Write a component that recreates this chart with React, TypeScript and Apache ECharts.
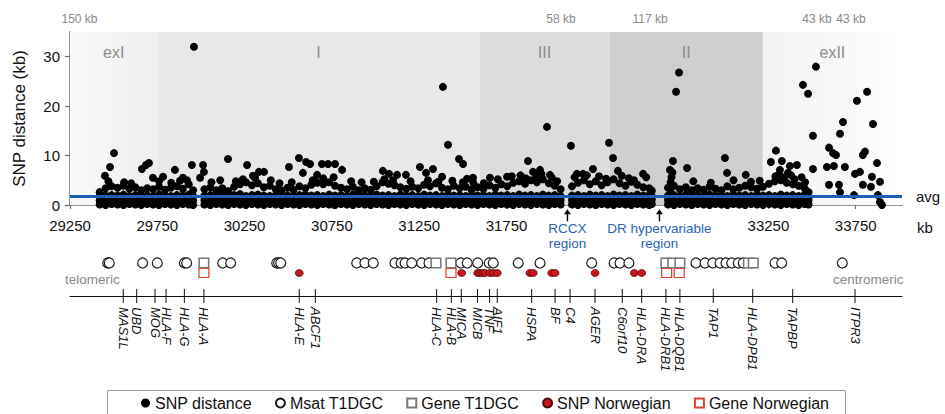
import React, { useEffect, useRef } from 'react';
import * as echarts from 'echarts';

// ---------- axis / tick data ----------
const X_MIN = 29250;
const X_MAX = 34015;
const Y_MAX = 35;
const xTickValues = [29250, 29750, 30250, 30750, 31250, 31750, 33250, 33750];
const yTickValues = [0, 10, 20, 30];
const avgDistance = 1.8;

// ---------- MHC regions ----------
const regionNames = ['exI', 'I', 'III', 'II', 'exII'];
const regionStarts = [29250, 29750, 31595, 32340, 33218];
const regionEnds = [29750, 31595, 32340, 33218, 34015];

// gap annotations above the plot
const gapLabels = ['150 kb', '58 kb', '117 kb', '43 kb', '43 kb'];

// region annotations below the axis
const annotNames = ['RCCX\nregion', 'DR hypervariable\nregion'];
const annotKb = [32099, 32626];

// ---------- SNP distance (kb) : dense band, columns [kb, values...] ----------
const bandSegmentA = [
  [29420, 0.1, 0.9, 1.8, 2.6], [29454, 0.0, 1.0, 1.9, 3.4], [29488, 0.2, 0.8, 2.0, 3.8],
  [29522, 0.1, 1.1, 1.9, 3.5], [29556, 0.0, 0.9, 2.1, 3.9], [29590, 0.2, 1.0, 1.8, 3.3],
  [29624, 0.1, 0.8, 2.0, 3.6], [29658, 0.0, 1.1, 1.9, 3.0], [29692, 0.2, 0.9, 2.0, 3.4],
  [29726, 0.1, 1.0, 1.8, 3.2], [29760, 0.0, 0.8, 2.1, 3.7], [29794, 0.2, 1.1, 1.9, 3.1],
  [29828, 0.1, 0.9, 1.8, 3.5], [29862, 0.0, 1.0, 2.0, 3.8], [29896, 0.2, 0.8, 1.9, 3.3],
  [29930, 0.1, 1.1, 2.1, 4.2], [29955, 0.0, 0.9, 1.8, 3.0],
];
const bandSegmentB = [
  [30020, 0.1, 1.0, 1.9, 3.2], [30054, 0.0, 0.8, 2.0, 3.6], [30088, 0.2, 1.1, 1.8, 3.0],
  [30122, 0.1, 0.9, 2.1, 3.4], [30156, 0.0, 1.0, 1.9, 2.8], [30190, 0.2, 0.8, 2.0, 3.7],
  [30224, 0.1, 1.1, 2.2, 4.2], [30258, 0.0, 0.9, 1.8, 4.6], [30292, 0.2, 1.0, 2.0, 4.0],
  [30326, 0.1, 0.8, 2.1, 4.4], [30360, 0.0, 1.1, 1.9, 3.6], [30394, 0.2, 0.9, 1.8, 3.9],
  [30428, 0.1, 1.0, 2.0, 3.2], [30462, 0.0, 0.8, 2.1, 3.0], [30496, 0.2, 1.1, 1.9, 3.5],
  [30530, 0.1, 0.9, 1.8, 3.1], [30564, 0.0, 1.0, 2.0, 3.8], [30598, 0.2, 0.8, 2.1, 3.4],
  [30632, 0.1, 1.1, 1.9, 4.1], [30666, 0.0, 0.9, 2.0, 4.5], [30700, 0.2, 1.0, 1.8, 4.2],
  [30734, 0.1, 0.8, 2.1, 4.6], [30768, 0.0, 1.1, 1.9, 3.9], [30802, 0.2, 0.9, 2.0, 3.5],
  [30836, 0.1, 1.0, 1.8, 3.2], [30870, 0.0, 0.8, 2.1, 3.7], [30904, 0.2, 1.1, 1.9, 3.0],
  [30938, 0.1, 0.9, 2.0, 3.4], [30972, 0.0, 1.0, 1.8, 3.1], [31006, 0.2, 0.8, 2.1, 3.8],
  [31040, 0.1, 1.1, 1.9, 4.6], [31074, 0.0, 0.9, 2.0, 4.3], [31108, 0.2, 1.0, 1.8, 4.0],
  [31142, 0.1, 0.8, 2.1, 3.6], [31176, 0.0, 1.1, 1.9, 3.3], [31210, 0.2, 0.9, 2.0, 3.7],
  [31244, 0.1, 1.0, 1.8, 3.4], [31278, 0.0, 0.8, 2.1, 4.1], [31312, 0.2, 1.1, 1.9, 3.8],
  [31346, 0.1, 0.9, 2.0, 4.4], [31380, 0.0, 1.0, 1.8, 3.5], [31414, 0.2, 0.8, 2.1, 3.2],
  [31448, 0.1, 1.1, 1.9, 3.9], [31482, 0.0, 0.9, 2.0, 3.4], [31516, 0.2, 1.0, 1.8, 3.7],
  [31550, 0.1, 0.8, 2.1, 3.1], [31584, 0.0, 1.1, 1.9, 3.6], [31618, 0.2, 0.9, 2.0, 3.3],
  [31652, 0.1, 1.0, 1.8, 4.0], [31686, 0.0, 0.8, 2.1, 3.5], [31720, 0.2, 1.1, 1.9, 4.2],
  [31754, 0.1, 0.9, 2.0, 3.8], [31788, 0.0, 1.0, 1.8, 4.5], [31822, 0.2, 0.8, 2.1, 4.8],
  [31856, 0.1, 1.1, 1.9, 4.3], [31890, 0.0, 0.9, 2.0, 5.0], [31924, 0.2, 1.0, 1.8, 4.6],
  [31958, 0.1, 0.8, 2.1, 5.2], [31992, 0.0, 1.1, 1.9, 4.4], [32026, 0.2, 0.9, 2.0, 3.9],
  [32060, 0.1, 1.0, 1.8, 3.2],
];
const bandSegmentC = [
  [32125, 0.1, 1.0, 1.9, 3.8], [32159, 0.0, 0.8, 2.0, 4.5], [32193, 0.2, 1.1, 1.8, 5.0],
  [32227, 0.1, 0.9, 2.1, 4.2], [32261, 0.0, 1.0, 1.9, 4.8], [32295, 0.2, 0.8, 2.0, 4.0],
  [32329, 0.1, 1.1, 1.8, 4.6], [32363, 0.0, 0.9, 2.1, 5.2], [32397, 0.2, 1.0, 1.9, 4.4],
  [32431, 0.1, 0.8, 2.0, 3.9], [32465, 0.0, 1.1, 1.8, 4.7], [32499, 0.2, 0.9, 2.1, 4.1],
  [32533, 0.1, 1.0, 1.9, 3.6], [32567, 0.0, 0.8, 2.0, 3.4], [32582, 0.2, 1.1, 1.8, 2.9],
];
const bandSegmentD = [
  [32675, 0.1, 1.0, 1.9, 3.5], [32709, 0.0, 0.8, 2.0, 3.9], [32743, 0.2, 1.1, 1.8, 3.2],
  [32777, 0.1, 0.9, 2.1, 3.6], [32811, 0.0, 1.0, 1.9, 3.0], [32845, 0.2, 0.8, 2.0, 3.4],
  [32879, 0.1, 1.1, 1.8, 3.1], [32913, 0.0, 0.9, 2.1, 3.7], [32947, 0.2, 1.0, 1.9, 3.3],
  [32981, 0.1, 0.8, 2.0, 3.0], [33015, 0.0, 1.1, 1.8, 3.8], [33049, 0.2, 0.9, 2.1, 3.2],
  [33083, 0.1, 1.0, 1.9, 3.5], [33117, 0.0, 0.8, 2.0, 3.9], [33151, 0.2, 1.1, 1.8, 3.6],
  [33185, 0.1, 0.9, 2.1, 3.3], [33219, 0.0, 1.0, 1.9, 3.7], [33253, 0.2, 0.8, 2.0, 4.3],
  [33287, 0.1, 1.1, 1.8, 4.8], [33321, 0.0, 0.9, 2.1, 5.0], [33355, 0.2, 1.0, 1.9, 4.5],
  [33389, 0.1, 0.8, 2.0, 4.2], [33423, 0.0, 1.1, 1.8, 3.9], [33457, 0.2, 0.9, 2.1, 3.4],
  [33480, 0.1, 1.0, 1.6, 2.6],
];

// moderate SNP distances just above the dense band
const snpModerate = [
  [29470, 4.8], [29560, 4.6], [29600, 4.4], [29760, 4.8], [29830, 4.5], [29880, 4.9], [29920, 5.0],
  [30060, 4.6], [30110, 5.0], [30200, 4.8], [30240, 5.2], [30310, 5.5], [30400, 5.0], [30450, 4.4],
  [30520, 4.6], [30640, 5.0], [30700, 5.4], [30760, 5.6], [30860, 4.8], [30920, 4.6], [30990, 4.7],
  [31050, 5.2], [31100, 5.0], [31200, 4.8], [31300, 5.0], [31360, 4.7], [31440, 4.9], [31500, 4.6],
  [31560, 4.5], [31620, 4.4], [31700, 5.2], [31780, 5.8], [31830, 6.0], [31860, 5.4], [31920, 5.9],
  [31950, 6.3], [32010, 5.5], [32040, 4.8], [32140, 5.6], [32210, 6.0], [32280, 5.8], [32320, 5.3],
  [32410, 5.9], [32450, 5.4], [32480, 5.0], [32550, 5.6], [32690, 4.6], [32695, 5.6], [32700, 6.6],
  [32688, 3.2], [32820, 4.8], [32920, 4.5], [33050, 5.0], [33150, 4.7], [33200, 4.9], [33290, 5.8],
  [33310, 6.2], [33340, 5.6], [33380, 6.0], [33400, 5.2], [33440, 5.6], [33460, 4.6],
];

// isolated large SNP distances
const snpOutliers = [
  [29960, 32.0], [29502, 10.5], [29479, 7.7], [29450, 5.9], [29702, 8.5], [29685, 8.1], [29662, 7.3],
  [29725, 5.5], [29783, 5.7], [29851, 7.1], [29948, 8.1], [30012, 8.1], [30017, 6.7], [29995, 5.5],
  [30155, 9.3], [30264, 8.1], [30298, 5.9], [30332, 6.7], [30361, 6.7], [29897, 5.5],
  [31386, 23.9], [31415, 12.2], [30561, 9.5], [30504, 7.7], [30602, 8.7], [30625, 8.3], [30584, 6.5],
  [30665, 6.1], [30693, 8.3], [30728, 8.3], [30768, 8.3], [30808, 7.1], [31042, 6.9], [31077, 6.3],
  [31123, 6.1], [31174, 6.1], [31254, 7.7], [31289, 6.5], [31329, 7.3], [31381, 5.7], [31478, 9.3],
  [31501, 8.3], [31558, 5.5], [31524, 5.3],
  [32738, 26.8], [32721, 22.9], [31982, 15.8], [32119, 12.0], [32337, 12.6], [32360, 9.5], [31873, 8.9],
  [32703, 8.9], [31942, 7.1], [31902, 6.7], [31999, 6.1], [32686, 7.1], [32784, 7.5], [32532, 6.3],
  [32388, 6.9], [32245, 7.3], [32153, 6.3], [32188, 6.3], [31655, 5.5], [31753, 5.7],
  [33522, 28.0], [33448, 24.3], [33477, 22.5], [33815, 22.9], [33757, 21.1], [33677, 16.8], [33849, 16.4],
  [33660, 14.4], [33505, 14.0], [33597, 11.6], [33620, 10.5], [33637, 10.1], [33803, 10.8], [33791, 10.1],
  [33293, 11.0], [33264, 8.7], [33327, 8.9], [33001, 9.5], [33013, 6.5], [33316, 7.1], [33373, 7.9],
  [33413, 8.1], [33505, 7.3], [33585, 7.7], [33625, 7.9], [33688, 7.7], [33872, 8.5], [33746, 6.3],
  [33774, 6.7], [33843, 5.7], [33889, 4.7], [33597, 4.1], [33654, 4.1], [33791, 4.1], [33837, 3.7],
  [33740, 2.0], [33877, 2.0], [33889, 0.6], [33900, 0.0], [33660, 2.6], [33120, 6.1], [33362, 6.5],
];

// ---------- gene map ----------
const geneNames = ['MAS1L', 'UBD', 'MOG', 'HLA-F', 'HLA-G', 'HLA-A', 'HLA-E', 'ABCF1', 'HLA-C', 'HLA-B',
  'MICA', 'MICB', 'TNF', 'AIF1', 'HSPA', 'BF', 'C4', 'AGER', 'C6orf10', 'HLA-DRA', 'HLA-DRB1',
  'HLA-DQB1', 'TAP1', 'HLA-DPB1', 'TAPBP', 'ITPR3'];
const genePositions = [29555, 29632, 29737, 29800, 29905, 30017, 30563, 30655, 31350, 31434,
  31491, 31584, 31653, 31697, 31894, 32028, 32114, 32257, 32413, 32524, 32663,
  32743, 32934, 33160, 33389, 33746];

const msatT1DGC = [29466, 29475, 29666, 29750, 29905, 29918, 30125, 30170, 30434, 30445, 30457,
  30892, 30939, 30987, 31111, 31146, 31169, 31207, 31264, 31306, 31488, 31525, 31585, 31651, 31674,
  31817, 31942, 32238, 32366, 32400, 32451, 32835, 32887, 32931, 32973, 33007, 33040, 33077, 33106,
  33288, 33326, 33673];
const geneT1DGC = [30017, 31346, 31432, 32663, 32702, 32743, 33135, 33163];
const snpNorwegian = [30563, 31493, 31585, 31598, 31614, 31627, 31655, 31674, 31697, 31884, 31903,
  32009, 32028, 32257, 32482, 32524];
const geneNorwegian = [30017, 31432, 32667, 32739];

const legendNames = ['SNP distance', 'Msat T1DGC', 'Gene T1DGC', 'SNP Norwegian', 'Gene Norwegian'];

const FONT = '"Liberation Sans", Arial, Helvetica, sans-serif';

export default function App() {
  const ref = useRef<HTMLDivElement>(null);

  useEffect(() => {
    if (!ref.current) return;
    const chart = echarts.init(ref.current, undefined, { renderer: 'svg' });

    const bandPoints = [...bandSegmentA, ...bandSegmentB, ...bandSegmentC, ...bandSegmentD]
      .flatMap((row) => row.slice(1).map((v) => [row[0], v]));
    const snpData = [...bandPoints, ...snpModerate, ...snpOutliers];

    const regionFills: any[] = [
      new echarts.graphic.LinearGradient(0, 0, 1, 0, [
        { offset: 0, color: '#f8f9fa' }, { offset: 1, color: '#eceeef' }]),
      '#e8e8e8',
      '#dcdddd',
      '#cfcfcf',
      new echarts.graphic.LinearGradient(0, 0, 1, 0, [
        { offset: 0, color: '#f1f3f4' }, { offset: 0.75, color: '#f9fafa' }, { offset: 1, color: '#ffffff' }]),
    ];

    const axisGrey = '#6e6e6e';
    const ROW_MSAT = 13;
    const ROW_NOR = 23;
    const GENE_LINE = 46;
    const txt = (align: string) => ({ textAlign: align, textVerticalAlign: 'middle', align, verticalAlign: 'middle' });

    const option: any = {
      animation: false,
      textStyle: { fontFamily: FONT },
      grid: [
        { left: 70, top: 32, width: 832, height: 173, outerBoundsMode: 'none' },
        { left: 70, top: 250, width: 832, height: GENE_LINE, outerBoundsMode: 'none' },
      ],
      xAxis: [
        {
          type: 'value', gridIndex: 0, min: X_MIN, max: X_MAX,
          axisLine: { show: true, onZero: false, lineStyle: { color: axisGrey, width: 1.5 } },
          axisTick: { show: true, customValues: xTickValues, length: 4, lineStyle: { color: axisGrey, width: 1.2 } },
          axisLabel: { customValues: xTickValues, formatter: (v: number) => String(v), fontSize: 15, color: '#111', margin: 13, fontFamily: FONT },
          splitLine: { show: false },
        },
        {
          type: 'value', gridIndex: 1, min: X_MIN, max: X_MAX,
          axisLine: { show: true, onZero: false, lineStyle: { color: '#111', width: 1 } },
          axisTick: { show: false }, axisLabel: { show: false }, splitLine: { show: false },
        },
      ],
      yAxis: [
        {
          type: 'value', gridIndex: 0, min: 0, max: Y_MAX,
          name: 'SNP distance (kb)', nameLocation: 'middle', nameGap: 42,
          nameTextStyle: { fontSize: 17, color: '#111', fontFamily: FONT },
          axisLine: { show: true, lineStyle: { color: axisGrey, width: 1.5 } },
          axisTick: { show: true, customValues: yTickValues, length: 5, lineStyle: { color: axisGrey, width: 1.2 } },
          axisLabel: { customValues: yTickValues, formatter: (v: number) => String(v), fontSize: 15, color: '#111', margin: 10, fontFamily: FONT },
          splitLine: { show: false },
        },
        { type: 'value', gridIndex: 1, min: 0, max: GENE_LINE, inverse: true, show: false },
      ],
      legend: {
        data: legendNames, left: 141, top: 395, padding: 0, itemWidth: 9, itemHeight: 9, itemGap: 23,
        selectedMode: false, textStyle: { fontSize: 16, color: '#111', fontFamily: FONT },
      },
      graphic: [
        { type: 'rect', shape: { x: 107.5, y: 390.5, width: 738, height: 40 },
          style: { fill: 'none', stroke: '#9a9a9a', lineWidth: 1 }, silent: true },
        ...gapLabels.map((t, i) => ({
          type: 'text', x: [79.5, 561, 650, 817, 851][i], y: 19,
          style: { text: t, fill: '#8a8a8a', font: `12px ${FONT}`, ...txt('center') },
        })),
        { type: 'text', x: 917, y: 227, style: { text: 'kb', fill: '#111', font: `15px ${FONT}`, ...txt('left') } },
        { type: 'text', x: 65, y: 279, style: { text: 'telomeric', fill: '#8a8a8a', font: `13.5px ${FONT}`, ...txt('left') } },
        { type: 'text', x: 833, y: 279, style: { text: 'centromeric', fill: '#8a8a8a', font: `13.5px ${FONT}`, ...txt('left') } },
      ],
      series: [
        {
          name: 'regions', type: 'scatter', xAxisIndex: 0, yAxisIndex: 0, data: [], z: 0, silent: true,
          markArea: {
            silent: true,
            label: { show: true, position: 'insideTop', distance: 12, color: '#8c8c8c', fontSize: 16, fontFamily: FONT },
            data: regionNames.map((n, i) => [
              { name: n, xAxis: regionStarts[i], itemStyle: { color: regionFills[i], borderWidth: 0, opacity: 1 } },
              { xAxis: regionEnds[i] },
            ]),
          },
        },
        {
          name: 'SNP distance', type: 'scatter', xAxisIndex: 0, yAxisIndex: 0, data: snpData,
          symbol: 'circle', symbolSize: 8, itemStyle: { color: '#000', opacity: 1 }, z: 2, clip: false, silent: true,
        },
        {
          name: 'avg', type: 'scatter', xAxisIndex: 0, yAxisIndex: 0, data: [], z: 3, silent: true,
          markLine: {
            silent: true, symbol: ['none', 'none'],
            lineStyle: { color: '#1d5fb4', width: 3, type: 'solid', opacity: 1 },
            label: { show: true, position: 'end', formatter: 'avg', color: '#111', fontSize: 15, distance: 14, fontFamily: FONT },
            data: [{ yAxis: avgDistance }],
          },
        },
        {
          name: 'annotations', type: 'scatter', xAxisIndex: 0, yAxisIndex: 0, z: 4, clip: false, silent: true,
          data: annotNames.map((n, i) => ({ name: n, value: [annotKb[i], -2.05] })),
          symbol: 'path://M5,0 L10,6 L6,6 L6,14 L4,14 L4,6 L0,6 Z', symbolSize: [7, 12],
          itemStyle: { color: '#000', opacity: 1 },
          label: { show: true, position: 'bottom', distance: 0, formatter: '{b}', color: '#2a64b4', fontSize: 13.5, lineHeight: 15, fontFamily: FONT },
        },
        {
          name: 'Msat T1DGC', type: 'scatter', xAxisIndex: 1, yAxisIndex: 1, silent: true, clip: false,
          data: msatT1DGC.map((kb) => [kb, ROW_MSAT]), symbol: 'circle', symbolSize: 10,
          itemStyle: { color: '#fff', borderColor: '#1a1a1a', borderWidth: 1.2, opacity: 1 }, z: 2,
        },
        {
          name: 'Gene T1DGC', type: 'scatter', xAxisIndex: 1, yAxisIndex: 1, silent: true, clip: false,
          data: geneT1DGC.map((kb) => [kb, ROW_MSAT]), symbol: 'rect', symbolSize: 9.5,
          itemStyle: { color: '#fff', borderColor: '#7a7a7a', borderWidth: 1.6, opacity: 1 }, z: 3,
        },
        {
          name: 'SNP Norwegian', type: 'scatter', xAxisIndex: 1, yAxisIndex: 1, silent: true, clip: false,
          data: snpNorwegian.map((kb) => [kb, ROW_NOR]), symbol: 'circle', symbolSize: [8, 7],
          itemStyle: { color: '#c7161e', borderColor: '#4a0a0a', borderWidth: 0.7, opacity: 1 }, z: 2,
        },
        {
          name: 'Gene Norwegian', type: 'scatter', xAxisIndex: 1, yAxisIndex: 1, silent: true, clip: false,
          data: geneNorwegian.map((kb) => [kb, ROW_NOR]), symbol: 'rect', symbolSize: [10, 9],
          itemStyle: { color: '#fff', borderColor: '#e4422e', borderWidth: 1.2, opacity: 1 }, z: 3,
        },
        {
          name: 'genes', type: 'custom', coordinateSystem: 'cartesian2d', xAxisIndex: 1, yAxisIndex: 1,
          silent: true, clip: false, z: 4,
          data: genePositions.map((kb) => [kb, GENE_LINE]),
          renderItem: (params: any, api: any) => {
            const p = api.coord([api.value(0), GENE_LINE]);
            return {
              type: 'group',
              children: [
                { type: 'line', shape: { x1: p[0], y1: p[1] - 7, x2: p[0], y2: p[1] + 7 },
                  style: { stroke: '#111', lineWidth: 1 } },
                { type: 'text', x: p[0], y: p[1] + 11, rotation: -Math.PI / 2,
                  style: { text: geneNames[params.dataIndex], fill: '#111', font: `italic 13px ${FONT}`, ...txt('left') } },
              ],
            };
          },
        },
      ],
    };

    chart.setOption(option);
    return () => chart.dispose();
  }, []);

  return (
    <div
      ref={ref}
      style={{ position: 'fixed', left: 0, top: 0, width: 945, height: 414, background: '#fff' }}
    />
  );
}
